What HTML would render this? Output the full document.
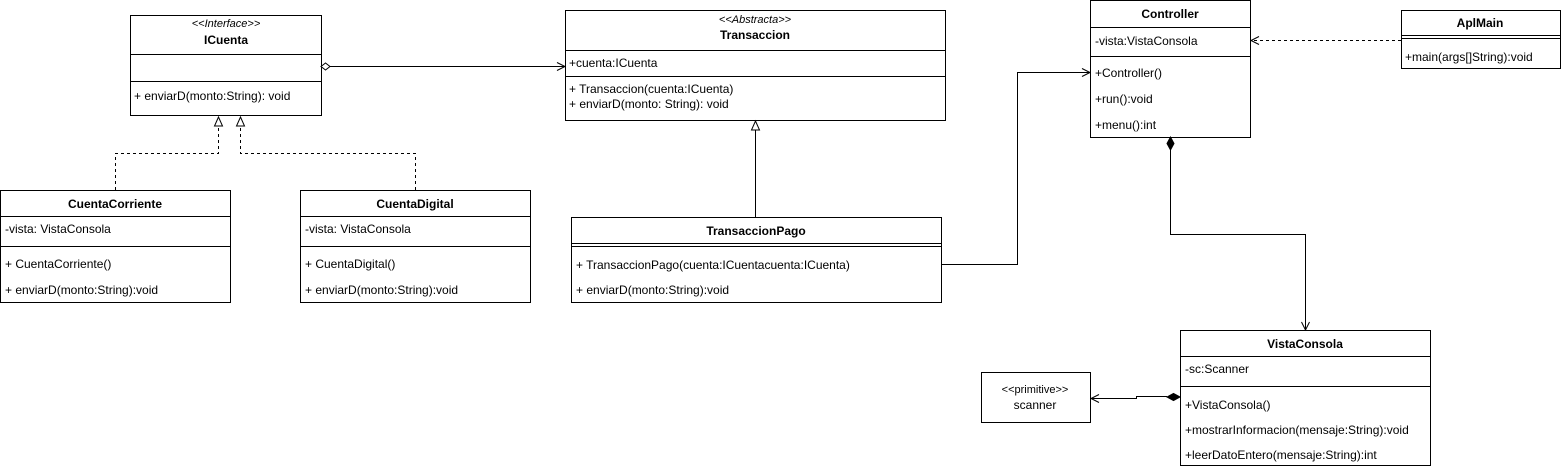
<!DOCTYPE html>
<html><head><meta charset="utf-8"><style>
html,body{margin:0;padding:0;background:#fff;}
svg{display:block;}
text{font-family:"Liberation Sans",Arial,sans-serif;font-size:12px;fill:#000;}
.b{font-weight:bold;}
.i{font-style:italic;font-size:11px;}
</style></head><body>
<svg width="1561" height="468" viewBox="0 0 1561 468" xmlns="http://www.w3.org/2000/svg">
<g fill="#fff" stroke="#000" stroke-width="1">
<!-- ICuenta -->
<rect x="130.5" y="15.5" width="191" height="100"/>
<line x1="130" y1="54.5" x2="321" y2="54.5"/><line x1="130" y1="81.5" x2="321" y2="81.5"/>
<!-- CuentaCorriente -->
<rect x="0.5" y="190.5" width="230" height="112"/>
<line x1="0" y1="216.5" x2="230" y2="216.5"/><line x1="0" y1="246.5" x2="230" y2="246.5"/>
<!-- CuentaDigital -->
<rect x="300.5" y="190.5" width="230" height="112"/>
<line x1="300" y1="216.5" x2="530" y2="216.5"/><line x1="300" y1="246.5" x2="530" y2="246.5"/>
<!-- Transaccion -->
<rect x="565.5" y="10.5" width="380" height="110"/>
<line x1="565" y1="50.5" x2="945" y2="50.5"/><line x1="565" y1="76.5" x2="945" y2="76.5"/>
<!-- TransaccionPago -->
<rect x="571.5" y="217.5" width="370" height="85"/>
<line x1="571" y1="243.5" x2="941" y2="243.5"/><line x1="571" y1="246.5" x2="941" y2="246.5"/>
<!-- Controller -->
<rect x="1090.5" y="0.5" width="160" height="137"/>
<line x1="1090" y1="27.5" x2="1250" y2="27.5"/><line x1="1090" y1="56.5" x2="1250" y2="56.5"/>
<!-- AplMain -->
<rect x="1401.5" y="10.5" width="159" height="58"/>
<line x1="1401" y1="35.5" x2="1560" y2="35.5"/><line x1="1401" y1="38.5" x2="1560" y2="38.5"/>
<!-- VistaConsola -->
<rect x="1180.5" y="330.5" width="250" height="135"/>
<line x1="1180" y1="356.5" x2="1430" y2="356.5"/><line x1="1180" y1="386.5" x2="1430" y2="386.5"/>
<!-- scanner -->
<rect x="981.5" y="372.5" width="109" height="50"/>
</g>
<g fill="none" stroke="#000" stroke-width="1">
<!-- aggregation -->
<polyline points="330,66.5 565,66.5"/>
<polygon points="321,66.5 325.5,63 330,66.5 325.5,70" fill="#fff"/>
<polyline points="557,62.5 565,66.5 557,70.5"/>
<!-- realizations -->
<polyline points="115.5,190 115.5,153.5 218.5,153.5 218.5,126" stroke-dasharray="3,3"/>
<polygon points="218.5,117 214.5,126 222.5,126" fill="#fff"/>
<polyline points="415.5,190 415.5,153.5 240.5,153.5 240.5,126" stroke-dasharray="3,3"/>
<polygon points="240.5,117 236.5,126 244.5,126" fill="#fff"/>
<!-- inheritance -->
<line x1="755.5" y1="130" x2="755.5" y2="217"/>
<polygon points="755.5,121 751.5,130 759.5,130" fill="#fff"/>
<!-- TransaccionPago -> Controller -->
<polyline points="941,264.5 1017.5,264.5 1017.5,72.5 1090,72.5"/>
<polyline points="1082,68.5 1090,72.5 1082,76.5"/>
<!-- AplMain dashed -->
<line x1="1401" y1="40.5" x2="1251" y2="40.5" stroke-dasharray="3,3"/>
<polyline points="1259,36.5 1251,40.5 1259,44.5"/>
<!-- Controller composition -->
<polygon points="1170.5,137 1167,143.5 1170.5,150 1174,143.5" fill="#000"/>
<polyline points="1170.5,150 1170.5,234.5 1305.5,234.5 1305.5,330"/>
<polyline points="1301.5,322 1305.5,330 1309.5,322"/>
<!-- VistaConsola -> scanner -->
<polygon points="1180,397 1173.5,393.5 1167,397 1173.5,400.5" fill="#000"/>
<polyline points="1167,396.5 1136.5,396.5 1136.5,398.5 1091,398.5"/>
<polyline points="1099,394.5 1091,398.5 1099,402.5"/>
</g>
<!-- text -->
<text x="226" y="27" text-anchor="middle" class="i">&lt;&lt;Interface&gt;&gt;</text>
<text x="226" y="44" text-anchor="middle" class="b">ICuenta</text>
<text x="134" y="100">+ enviarD(monto:String): void</text>

<text x="115" y="208" text-anchor="middle" class="b">CuentaCorriente</text>
<text x="5" y="233">-vista: VistaConsola</text>
<text x="5" y="268">+ CuentaCorriente()</text>
<text x="5" y="294">+ enviarD(monto:String):void</text>

<text x="415" y="208" text-anchor="middle" class="b">CuentaDigital</text>
<text x="305" y="233">-vista: VistaConsola</text>
<text x="305" y="268">+ CuentaDigital()</text>
<text x="305" y="294">+ enviarD(monto:String):void</text>

<text x="755" y="23" text-anchor="middle" class="i">&lt;&lt;Abstracta&gt;&gt;</text>
<text x="755" y="39" text-anchor="middle" class="b">Transaccion</text>
<text x="569" y="67">+cuenta:ICuenta</text>
<text x="569" y="93">+ Transaccion(cuenta:ICuenta)</text>
<text x="569" y="108">+ enviarD(monto: String): void</text>

<text x="756" y="235" text-anchor="middle" class="b">TransaccionPago</text>
<text x="576" y="269">+ TransaccionPago(cuenta:ICuentacuenta:ICuenta)</text>
<text x="576" y="294">+ enviarD(monto:String):void</text>

<text x="1170" y="18" text-anchor="middle" class="b">Controller</text>
<text x="1095" y="45">-vista:VistaConsola</text>
<text x="1095" y="77">+Controller()</text>
<text x="1095" y="103">+run():void</text>
<text x="1095" y="129">+menu():int</text>

<text x="1480" y="27" text-anchor="middle" class="b">AplMain</text>
<text x="1405" y="61">+main(args[]String):void</text>

<text x="1305" y="348" text-anchor="middle" class="b">VistaConsola</text>
<text x="1185" y="373">-sc:Scanner</text>
<text x="1185" y="409">+VistaConsola()</text>
<text x="1185" y="434">+mostrarInformacion(mensaje:String):void</text>
<text x="1185" y="459">+leerDatoEntero(mensaje:String):int</text>

<text x="1035" y="393" text-anchor="middle" style="font-size:11px">&lt;&lt;primitive&gt;&gt;</text>
<text x="1035" y="409" text-anchor="middle">scanner</text>
</svg>
</body></html>
